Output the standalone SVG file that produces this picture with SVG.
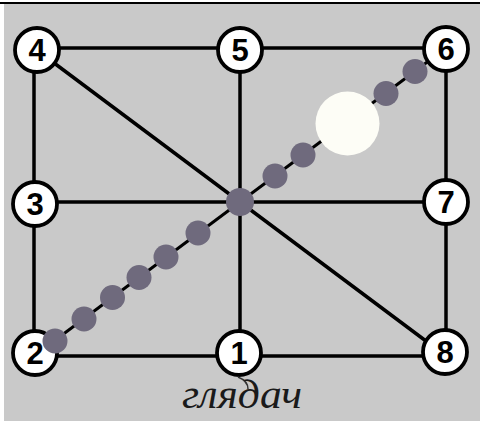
<svg xmlns="http://www.w3.org/2000/svg" width="480" height="421" viewBox="0 0 480 421">
  <style>
    .edge { stroke: #000; stroke-width: 3.5; fill: none; stroke-linecap: round; }
    .thin { stroke: #000; stroke-width: 3; fill: none; }
    .node circle { fill: #fff; stroke: #000; stroke-width: 3.8; }
    .node text { font-family: "Liberation Sans", Arial, sans-serif; font-weight: bold; font-size: 31px; fill: #000; text-anchor: middle; }
    .dot { fill: #6f6a7d; }
    .label { font-family: "Liberation Serif", "DejaVu Serif", serif; font-style: italic; font-size: 40px; fill: #1a1a1a; text-anchor: middle; }
  </style>
  <rect x="0" y="0" width="480" height="421" fill="#ffffff"/>
  <rect x="4" y="4" width="476" height="417" fill="#c9c9c9"/>
  <rect x="0" y="2" width="480" height="2" fill="#000"/>

  <g id="connectors">
    <line class="edge" x1="34" y1="48" x2="446" y2="48"/>
    <line class="edge" x1="34" y1="356" x2="446" y2="356"/>
    <line class="edge" x1="34" y1="202" x2="446" y2="202"/>
    <line class="edge" x1="34" y1="48" x2="34" y2="356"/>
    <line class="edge" x1="240" y1="48" x2="240" y2="356"/>
    <line class="edge" x1="446" y1="48" x2="446" y2="356"/>
    <line class="edge" x1="34" y1="48" x2="446" y2="356"/>
    <line class="thin" x1="34" y1="356" x2="446" y2="48"/>
  </g>

  <g id="node-4" class="node"><circle cx="37" cy="50" r="22"/><text x="37" y="61">4</text></g>
  <g id="node-5" class="node"><circle cx="240" cy="50" r="22"/><text x="240" y="61">5</text></g>
  <g id="node-6" class="node"><circle cx="446" cy="49" r="22"/><text x="446" y="60">6</text></g>
  <g id="node-3" class="node"><circle cx="35" cy="204" r="22"/><text x="35" y="215">3</text></g>
  <g id="node-7" class="node"><circle cx="446" cy="202" r="22"/><text x="446" y="213">7</text></g>
  <g id="node-2" class="node"><circle cx="35" cy="353" r="22"/><text x="35" y="364">2</text></g>
  <g id="node-1" class="node"><circle cx="239" cy="353" r="22"/><text x="239" y="364">1</text></g>
  <g id="node-8" class="node"><circle cx="445" cy="352" r="22"/><text x="445" y="363">8</text></g>

  <g id="stones">
    <circle class="dot" cx="55" cy="341" r="12.5"/>
    <circle class="dot" cx="84" cy="319" r="12.5"/>
    <circle class="dot" cx="112.5" cy="297.5" r="12.5"/>
    <circle class="dot" cx="139" cy="277.5" r="12.5"/>
    <circle class="dot" cx="166" cy="257" r="12.5"/>
    <circle class="dot" cx="198" cy="233" r="12.5"/>
    <circle class="dot" cx="240" cy="202" r="14"/>
    <circle class="dot" cx="275" cy="176" r="12.5"/>
    <circle class="dot" cx="303" cy="155" r="12.5"/>
    <circle cx="347.5" cy="123.5" r="32" fill="#fdfdf6"/>
    <circle class="dot" cx="386" cy="93.5" r="12.5"/>
    <circle class="dot" cx="415" cy="71.5" r="12.5"/>
  </g>

  <path d="M238,377 Q248,381 248,389" stroke="#333" stroke-width="1.5" fill="none"/>
  <text class="label" x="242" y="408" textLength="120" lengthAdjust="spacingAndGlyphs">глядач</text>
</svg>
